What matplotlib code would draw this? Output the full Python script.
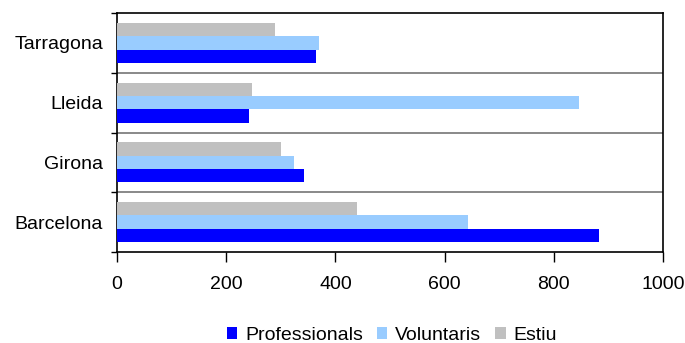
import matplotlib
matplotlib.use("Agg")
import matplotlib.pyplot as plt
import numpy as np

plt.rcParams['font.family'] = ['Liberation Sans', 'DejaVu Sans']

categories = ["Barcelona", "Girona", "Lleida", "Tarragona"]
series_names = ["Professionals", "Voluntaris", "Estiu"]
professionals = [883, 342, 241, 365]
voluntaris = [643, 325, 846, 370]
estiu = [440, 300, 248, 289]
colors = ["#0000FF", "#99CCFF", "#C0C0C0"]
xticks = [0, 200, 400, 600, 800, 1000]

fig = plt.figure(figsize=(6.85, 3.43), dpi=100)
ax = fig.add_axes([117/685, 1-252/343, 546/685, 239/343])

y = np.arange(len(categories))
h = 2/9
for i, (vals, name, col) in enumerate(zip([professionals, voluntaris, estiu], series_names, colors)):
    ax.barh(y + (i - 1) * h, vals, height=h, color=col, label=name, zorder=3)

ax.set_xlim(0, 1000)
ax.set_ylim(-0.5, len(categories) - 0.5)
ax.set_xticks(xticks)
ax.set_xticklabels([str(t) for t in xticks])
ax.set_yticks(y)
ax.set_yticklabels(categories)
ax.set_yticks(np.arange(-0.5, len(categories), 1), minor=True)
ax.tick_params(axis='y', which='major', length=0, pad=10, labelsize=14)
ax.tick_params(axis='y', which='minor', length=4.5, width=1, color='black')
ax.tick_params(axis='x', which='major', length=7, width=1, color='black', pad=10, labelsize=14)

for b in np.arange(0.5, len(categories) - 0.5, 1):
    ax.axhline(b, color='#808080', linewidth=1.3, zorder=2)

for s in ['left', 'right', 'top', 'bottom']:
    ax.spines[s].set_color('black')
    ax.spines[s].set_linewidth(1.2)

fig.legend(loc='center', bbox_to_anchor=(0.572, 0.022), ncol=3, frameon=False,
           fontsize=14, handlelength=0.55, handleheight=0.55, handletextpad=0.4,
           columnspacing=0.7, borderpad=0)

fig.savefig("out.png", dpi=100)
